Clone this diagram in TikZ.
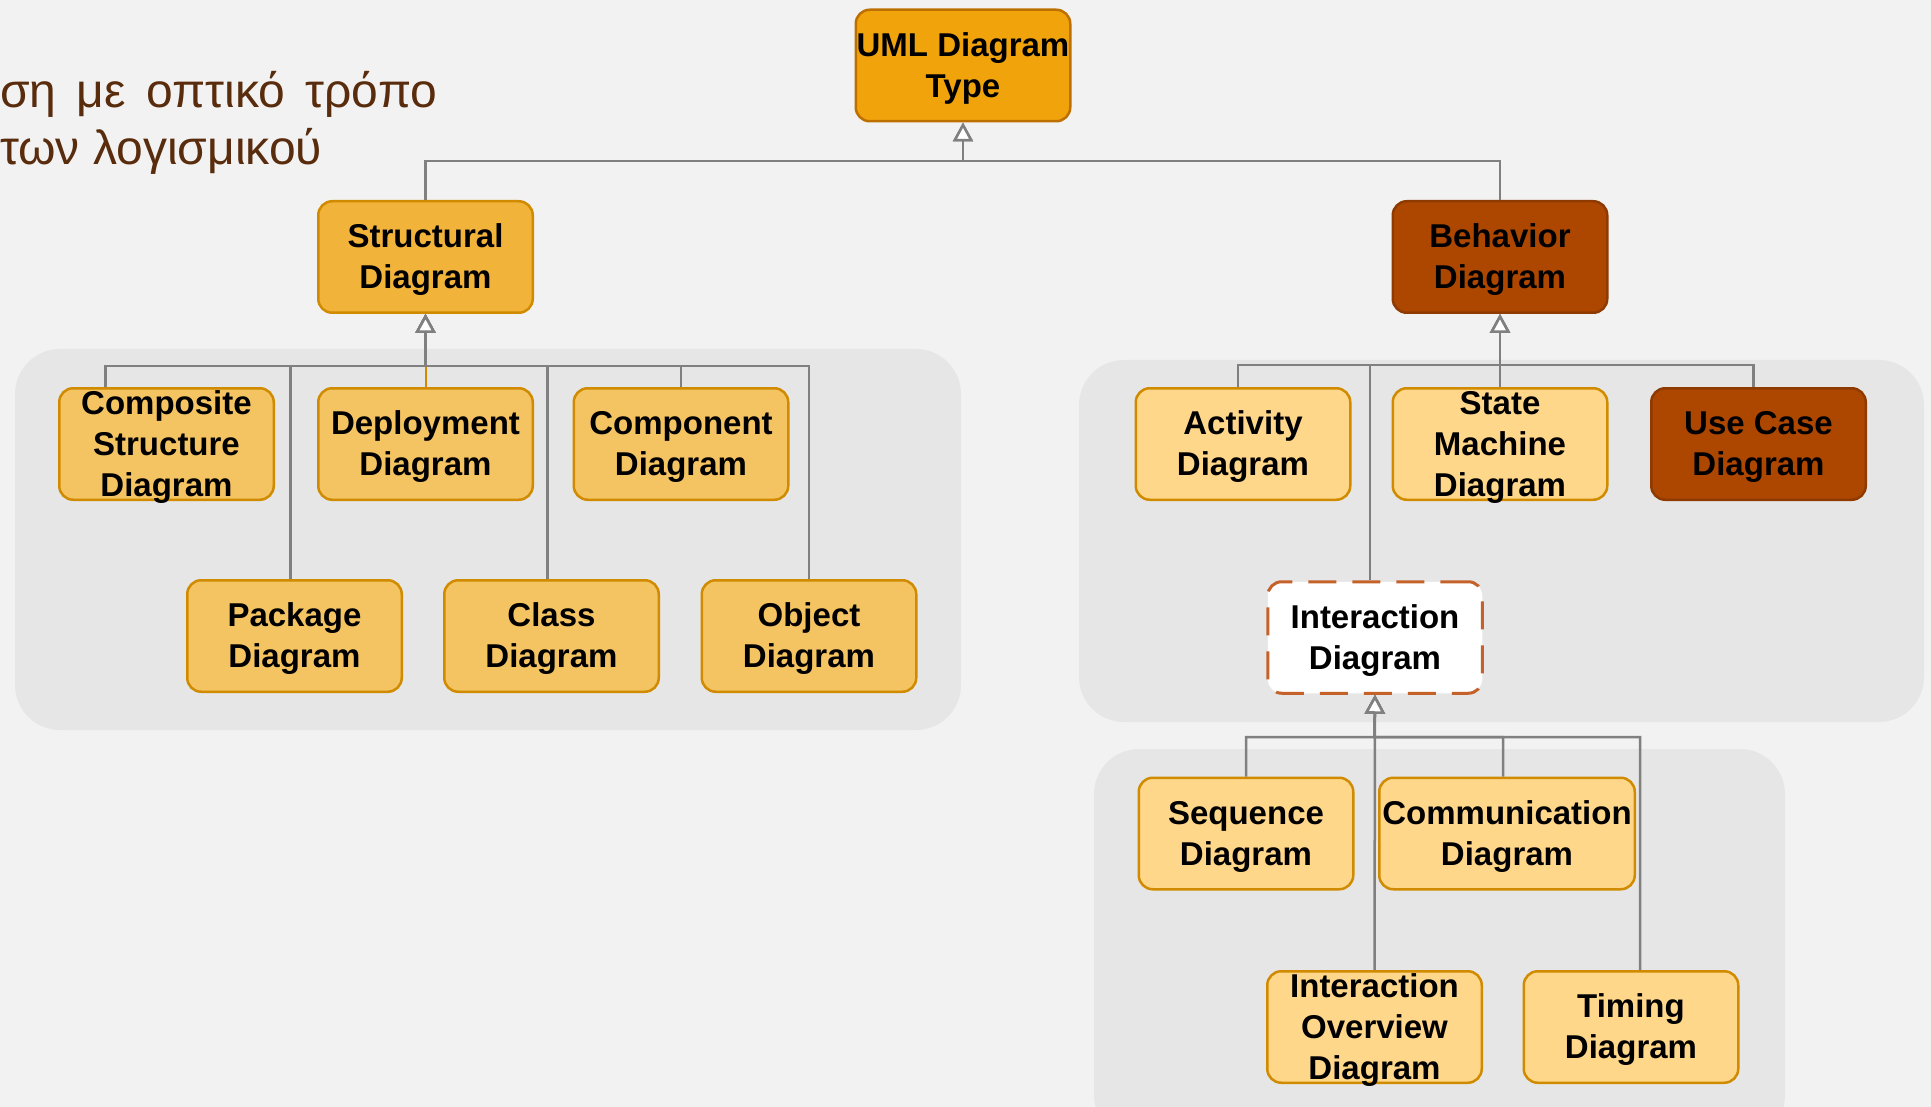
\documentclass[tikz,border=0pt]{standalone}
\usepackage{fontspec}
\setmainfont{Liberation Sans}
\usepackage{xcolor}
\usetikzlibrary{arrows.meta}
\definecolor{pagebg}{HTML}{F2F2F2}
\definecolor{groupbg}{HTML}{E6E6E6}
\definecolor{amber}{HTML}{F0A30A}
\definecolor{amberline}{HTML}{BD7000}
\definecolor{structfill}{HTML}{F2B33B}
\definecolor{lightfill}{HTML}{F5C462}
\definecolor{palefill}{HTML}{FFD78A}
\definecolor{boxline}{HTML}{D08B00}
\definecolor{rust}{HTML}{AD4700}
\definecolor{rustline}{HTML}{8F3A00}
\definecolor{dashline}{HTML}{C5622A}
\definecolor{linegray}{HTML}{808080}
\definecolor{titlebrown}{HTML}{582C0C}
\tikzset{
  box/.style={draw=boxline,line width=2.5pt,rounded corners=14pt,minimum width=214.5pt,minimum height=111.5pt,inner sep=0pt,align=center,text depth=1pt,font=\bfseries\fontsize{33}{41}\selectfont},
  edge/.style={draw=linegray,line width=2.5pt,-{Triangle[width=20pt,length=19pt,fill=white]}},
  group/.style={fill=groupbg,rounded corners=45pt},
  title/.style={text=titlebrown,inner sep=0pt,font=\fontsize{48}{57}\selectfont},
}
\begin{document}
\begin{tikzpicture}[x=1pt,y=-1pt]
        \useasboundingbox(0,0)rectangle(1931,1107);
        \fill[pagebg](0,0)rectangle(1931,1107);
        \begin{scope}
        \clip(0,0)rectangle(1931,1107);
        \fill[group](15,349)rectangle(961,730);
        \fill[group](1079,360)rectangle(1924,722);
        \fill[group](1094,749)rectangle(1785,1140);
        \end{scope}
        \node[title,anchor=base west](line1) at (0,108) {\makebox[437pt][s]{ση με οπτικό τρόπο}};
        \node[title,anchor=base west](line2) at (0,165) {των λογισμικού};
        \node[box,fill=amber,draw=amberline](uml) at (963,65.5) {UML Diagram\\Type};
        \node[box,fill=structfill](struct) at (425.5,257) {Structural\\Diagram};
        \node[box,fill=rust,draw=rustline](behav) at (1500,257) {Behavior\\Diagram};
        \node[box,fill=lightfill](comp) at (166.5,444) {Composite\\Structure\\Diagram};
        \node[box,fill=lightfill](deploy) at (425.5,444) {Deployment\\Diagram};
        \node[box,fill=lightfill](compo) at (681,444) {Component\\Diagram};
        \node[box,fill=lightfill](pack) at (294.5,636) {Package\\Diagram};
        \node[box,fill=lightfill](class) at (551.5,636) {Class\\Diagram};
        \node[box,fill=lightfill](obj) at (809,636) {Object\\Diagram};
        \node[box,fill=palefill](act) at (1243,444) {Activity\\Diagram};
        \node[box,fill=palefill](state) at (1500,444) {State\\Machine\\Diagram};
        \node[box,fill=rust,draw=rustline](usecase) at (1758.5,444) {Use Case\\Diagram};
        \node[box,fill=white,draw=dashline,line width=3pt,dash pattern=on 28pt off 16pt](inter) at (1375,637.5) {Interaction\\Diagram};
        \node[box,fill=palefill](seq) at (1246,833.5) {Sequence\\Diagram};
        \node[box,fill=palefill,minimum width=255.5pt](comm) at (1507,833.5) {Communication\\Diagram};
        \node[box,fill=palefill](over) at (1374.5,1027) {Interaction\\Overview\\Diagram};
        \node[box,fill=palefill](timing) at (1631,1027) {Timing\\Diagram};
        \coordinate(tbus) at (963,161);
        \coordinate(sbus) at (425.5,366);
        \coordinate(bbus) at (1500,365);
        \coordinate(ibus) at (1374.5,737);
        \draw[edge](struct.north)|-(tbus)--(uml.south);
        \draw[edge](behav.north)|-(tbus)--(uml.south);
        \draw[edge,draw=boxline,line width=2pt](deploy.north)--(sbus)--(struct.south);
        \draw[edge]([xshift=-61pt]comp.north)|-(sbus)--(struct.south);
        \draw[edge]([xshift=-4pt]pack.north)|-(sbus)--(struct.south);
        \draw[edge]([xshift=-4pt]class.north)|-(sbus)--(struct.south);
        \draw[edge](compo.north)|-(sbus)--(struct.south);
        \draw[edge](obj.north)|-(sbus)--(struct.south);
        \draw[edge]([xshift=-5pt]act.north)|-(bbus)--(behav.south);
        \draw[edge](state.north)--(behav.south);
        \draw[edge]([xshift=-5pt]usecase.north)|-(bbus)--(behav.south);
        \draw[edge]([xshift=-5pt]inter.north)|-(bbus)--(behav.south);
        \draw[edge](seq.north)|-(ibus)--(inter.south);
        \draw[edge]([xshift=-4pt]comm.north)|-(ibus)--(inter.south);
        \draw[edge](over.north)--(inter.south);
        \draw[edge]([xshift=9pt]timing.north)|-(ibus)--(inter.south);
\end{tikzpicture}
\end{document}
